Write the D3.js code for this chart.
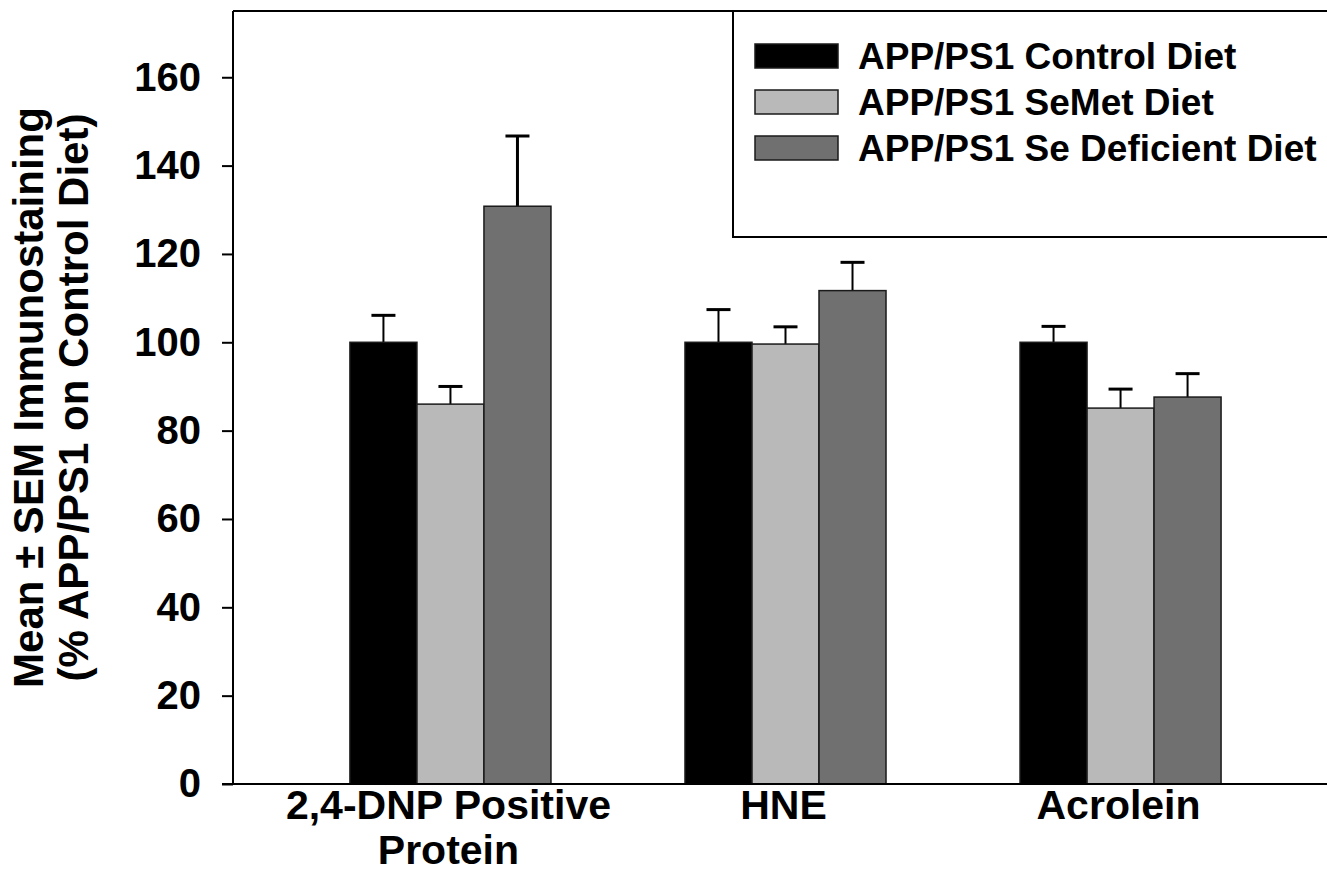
<!DOCTYPE html>
<html>
<head>
<meta charset="utf-8">
<script src="https://cdn.jsdelivr.net/npm/d3@7"></script>
<style>
  body { margin: 0; background: #fff; }
  svg { display: block; font-family: "Liberation Sans", Arial, sans-serif; font-weight: bold; }
</style>
</head>
<body>
<svg id="chart"></svg>
<script>
// data
const categories = [["2,4-DNP Positive", "Protein"], ["HNE"], ["Acrolein"]]
const seriesNames = ["APP/PS1 Control Diet", "APP/PS1 SeMet Diet", "APP/PS1 Se Deficient Diet"]
const controlMean = [100, 100, 100]
const controlSem = [6.1, 7.4, 3.6]
const semetMean = [86, 99.6, 85.1]
const semetSem = [4.0, 3.9, 4.3]
const deficientMean = [130.8, 111.7, 87.6]
const deficientSem = [15.9, 6.4, 5.3]
const yTicks = [0, 20, 40, 60, 80, 100, 120, 140, 160]
const colors = ["#000000", "#b9b9b9", "#707070"]

const width = 1327, height = 876
const plotLeft = 233, plotTop = 11, plotBottom = 784, plotRight = 1338

const svg = d3.select("#chart").attr("width", width).attr("height", height)

const means = [controlMean, semetMean, deficientMean]
const sems = [controlSem, semetSem, deficientSem]
const catKeys = categories.map(c => c.join(" "))

const x = d3.scaleBand()
    .domain(catKeys)
    .range([plotLeft, plotRight])
    .paddingInner(0.4)
    .paddingOuter(0.349)

const xSub = d3.scaleBand()
    .domain(seriesNames)
    .range([0, x.bandwidth()])

const y = d3.scaleLinear()
    .domain([0, 175])
    .range([plotBottom, plotTop])

// bars
catKeys.forEach((cat, ci) => {
    const g = svg.append("g").attr("transform", "translate(" + x(cat) + ",0)")
    seriesNames.forEach((s, si) => {
        const v = means[si][ci]
        const e = sems[si][ci]
        const cx = xSub(s) + xSub.bandwidth() / 2
        // error bar first so the bar outline sits on top
        g.append("line")
            .attr("x1", cx).attr("x2", cx)
            .attr("y1", y(v)).attr("y2", y(v + e))
            .attr("stroke", "#000").attr("stroke-width", si == 2 && ci == 0 ? 3 : 2)
        g.append("line")
            .attr("x1", cx - 12).attr("x2", cx + 12)
            .attr("y1", y(v + e)).attr("y2", y(v + e))
            .attr("stroke", "#000").attr("stroke-width", 3)
        g.append("rect")
            .attr("x", xSub(s))
            .attr("y", y(v))
            .attr("width", xSub.bandwidth())
            .attr("height", y(0) - y(v))
            .attr("fill", colors[si])
            .attr("stroke", "#1a1a1a")
            .attr("stroke-width", 1.5)
    })
})

// y axis
const yAxis = svg.append("g")
    .attr("transform", "translate(" + plotLeft + ",0)")
    .call(d3.axisLeft(y).tickValues(yTicks).tickSize(11).tickPadding(21))
yAxis.select(".domain").remove()
yAxis.selectAll(".tick line").attr("stroke", "#000").attr("stroke-width", 2)
yAxis.selectAll(".tick text")
    .attr("fill", "#000")
    .style("font-size", "40px")
    .style("font-family", "'Liberation Sans', Arial, sans-serif")
    .style("font-weight", "bold")

// frame lines
svg.append("line").attr("x1", plotLeft).attr("x2", plotLeft).attr("y1", plotTop).attr("y2", plotBottom)
    .attr("stroke", "#000").attr("stroke-width", 2)
svg.append("line").attr("x1", plotLeft - 11).attr("x2", width).attr("y1", plotBottom).attr("y2", plotBottom)
    .attr("stroke", "#000").attr("stroke-width", 2)
svg.append("line").attr("x1", plotLeft).attr("x2", width).attr("y1", plotTop).attr("y2", plotTop)
    .attr("stroke", "#000").attr("stroke-width", 2)

// x labels
catKeys.forEach((cat, ci) => {
    const cx = x(cat) + x.bandwidth() / 2
    categories[ci].forEach((line, li) => {
        svg.append("text")
            .attr("x", cx - 2)
            .attr("y", 819 + li * 45)
            .attr("text-anchor", "middle")
            .style("font-size", "41px")
            .text(line)
    })
})

// y title
const yTitle = svg.append("text")
    .attr("transform", "translate(43," + (plotTop + plotBottom) / 2 + ") rotate(-90)")
    .attr("text-anchor", "middle")
    .style("font-size", "42px")
yTitle.append("tspan").attr("x", 0).attr("y", 0).text("Mean \u00b1 SEM Immunostaining")
yTitle.append("tspan").attr("x", 0).attr("y", 45).text("(% APP/PS1 on Control Diet)")

// legend
const legend = svg.append("g")
legend.append("rect")
    .attr("x", 733).attr("y", plotTop)
    .attr("width", width - 733 + 5).attr("height", 237 - plotTop)
    .attr("fill", "none").attr("stroke", "#000").attr("stroke-width", 2)
seriesNames.forEach((s, i) => {
    const ly = 44 + i * 46
    legend.append("rect")
        .attr("x", 755).attr("y", ly)
        .attr("width", 83).attr("height", 24)
        .attr("fill", colors[i])
        .attr("stroke", "#1a1a1a").attr("stroke-width", 1.5)
    legend.append("text")
        .attr("x", 858).attr("y", ly + 25)
        .style("font-size", "37px")
        .text(s)
})
</script>
</body>
</html>
